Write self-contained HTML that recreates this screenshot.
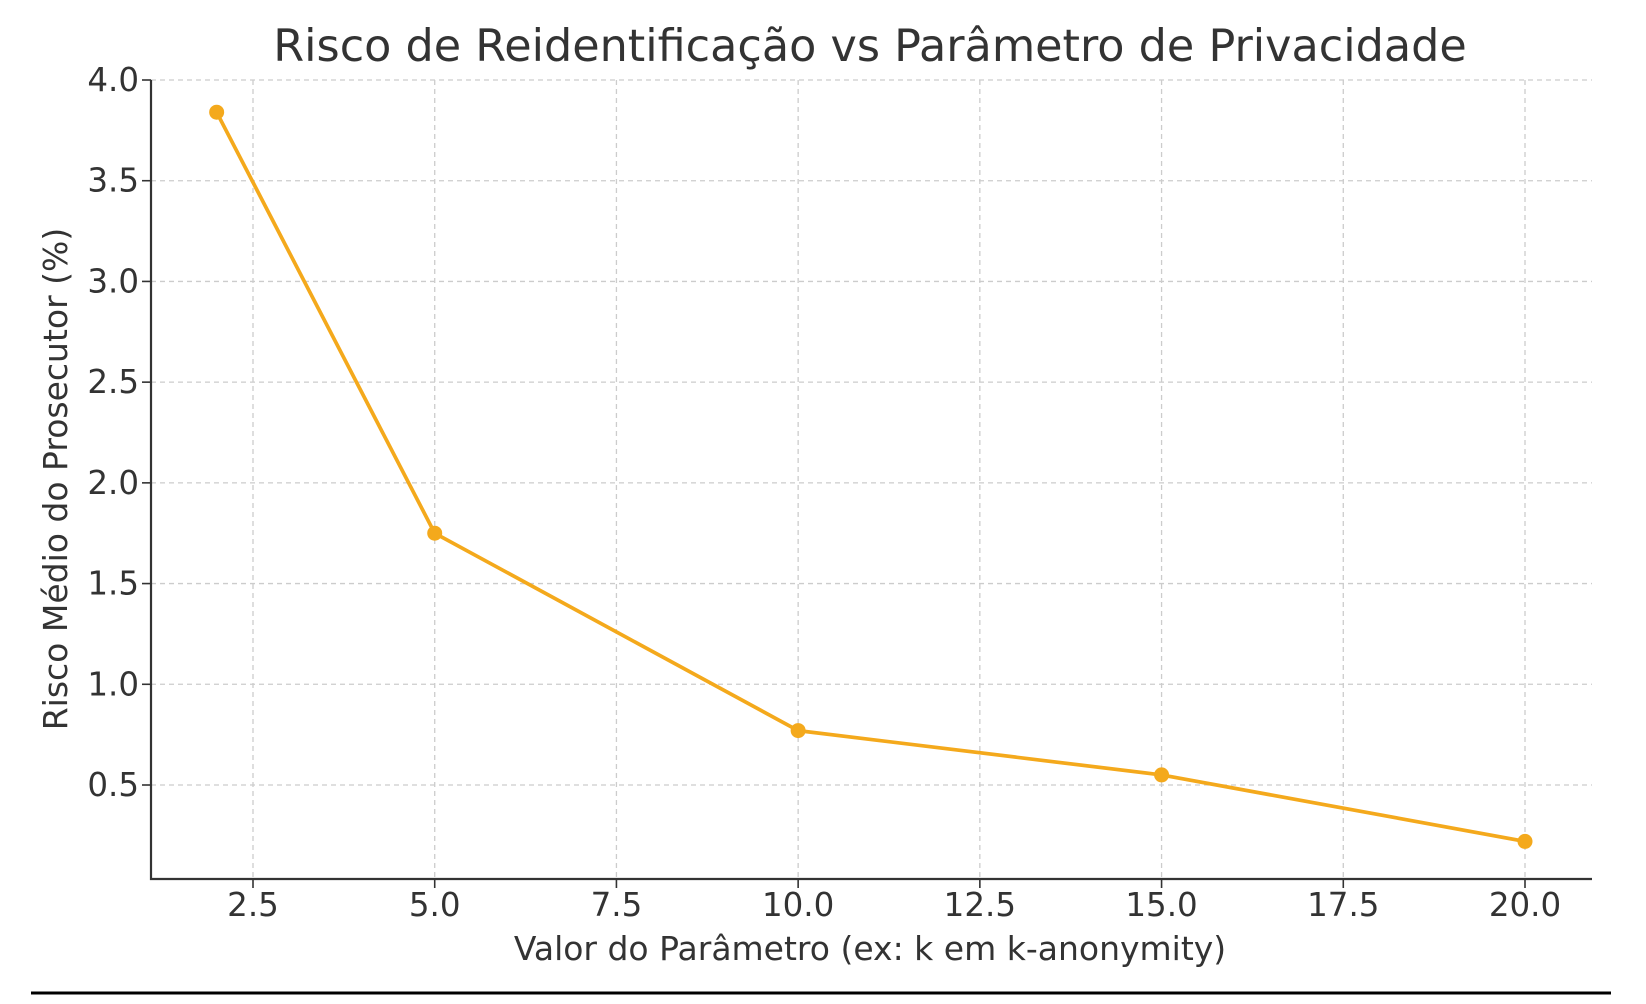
<!DOCTYPE html>
<html><head><meta charset="utf-8"><style>
html,body{margin:0;padding:0;background:#fff;}
svg{display:block;font-family:"DejaVu Sans","Liberation Sans",sans-serif;}
</style></head><body>
<svg id="chart" width="1646" height="1004">
<text x="870" y="61" text-anchor="middle" font-size="44.5" fill="#333">Risco de Reidentificação vs Parâmetro de Privacidade</text>
<g id="grid"></g>
<g id="axes"></g>
<g id="series"></g>
<text x="870" y="960" text-anchor="middle" font-size="33" fill="#333">Valor do Parâmetro (ex: k em k-anonymity)</text>
<text transform="translate(67,479) rotate(-90)" text-anchor="middle" font-size="33" fill="#333">Risco Médio do Prosecutor (%)</text>
<line x1="31" y1="993" x2="1611" y2="993" stroke="#000" stroke-width="3"/>
</svg>
<script>
const xValues = [2, 5, 10, 15, 20];
const riskValues = [3.84, 1.75, 0.77, 0.55, 0.22];
const xTicks = [2.5, 5.0, 7.5, 10.0, 12.5, 15.0, 17.5, 20.0];
const yTicks = [0.5, 1.0, 1.5, 2.0, 2.5, 3.0, 3.5, 4.0];

const L=151,R=1592,T=80,B=879;
function sx(v){return 253+(v-2.5)*(1525-253)/17.5;}
function sy(v){return 80+(4.0-v)*(785-80)/3.5;}
const NS="http://www.w3.org/2000/svg";
function mk(tag,attrs,parent){const e=document.createElementNS(NS,tag);for(const k in attrs)e.setAttribute(k,attrs[k]);parent.appendChild(e);return e;}
const grid=document.getElementById('grid'),axes=document.getElementById('axes'),series=document.getElementById('series');
xTicks.forEach(t=>{
  const g=mk('line',{x1:sx(t),x2:sx(t),y1:T,y2:B,stroke:'#ccc','stroke-width':1.3,'stroke-dasharray':'5,4'},grid);
  
  
  const tk=mk('line',{x1:sx(t),x2:sx(t),y1:B,y2:B+9,stroke:'#333','stroke-width':1.6},axes);
  
  
  const tx=mk('text',{x:sx(t),y:B+37,'text-anchor':'middle','font-size':32.5,fill:'#333'},axes);
  tx.textContent=t.toFixed(1);
  
  
});
yTicks.forEach(t=>{
  const g=mk('line',{x1:L,x2:R,y1:sy(t),y2:sy(t),stroke:'#ccc','stroke-width':1.3,'stroke-dasharray':'5,4'},grid);
  
  
  const tk=mk('line',{x1:L-9,x2:L,y1:sy(t),y2:sy(t),stroke:'#333','stroke-width':1.6},axes);
  
  
  const tx=mk('text',{x:L-12,y:sy(t)+11,'text-anchor':'end','font-size':32.5,fill:'#333'},axes);
  tx.textContent=t.toFixed(1);
  
  
});
const ax=mk('path',{d:`M${L},${T} L${L},${B} L${R},${B}`,fill:'none',stroke:'#333','stroke-width':2.2},axes);


const pts=xValues.map((x,i)=>sx(x)+','+sy(riskValues[i])).join(' ');
const line=mk('polyline',{points:pts,fill:'none',stroke:'#f4a91c','stroke-width':3.7,'stroke-linejoin':'round'},series);


xValues.forEach((x,i)=>{
  const c=mk('circle',{cx:sx(x),cy:sy(riskValues[i]),r:7.5,fill:'#f4a91c'},series);
  
  
});
</script>
</body></html>
